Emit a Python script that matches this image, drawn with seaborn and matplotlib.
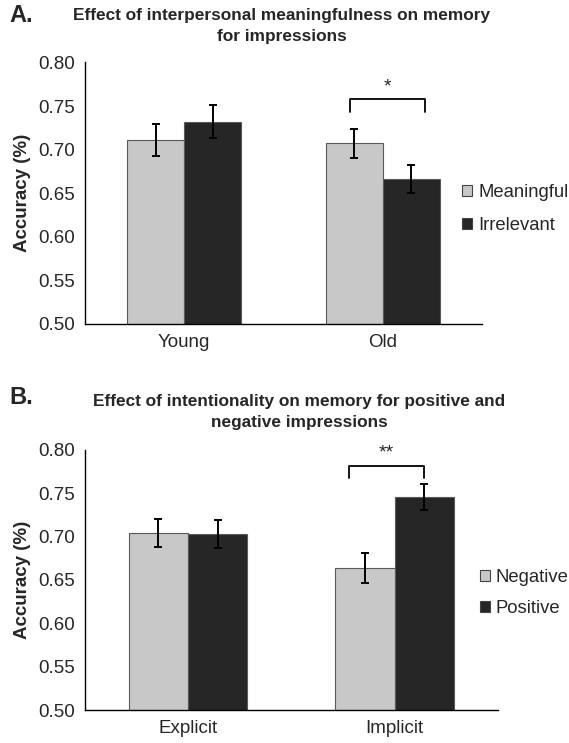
import matplotlib
matplotlib.use("Agg")
import matplotlib.pyplot as plt
import seaborn as sns
import pandas as pd
import numpy as np

# Panel A data
groups_a = ["Young", "Old"]
conds_a = ["Meaningful", "Irrelevant"]
meaningful_a = [0.711, 0.707]
irrelevant_a = [0.732, 0.666]
err_meaningful_a = [0.018, 0.017]
err_irrelevant_a = [0.019, 0.016]

# Panel B data
groups_b = ["Explicit", "Implicit"]
conds_b = ["Negative", "Positive"]
negative_b = [0.704, 0.664]
positive_b = [0.703, 0.746]
err_negative_b = [0.016, 0.017]
err_positive_b = [0.016, 0.015]

yticks = [0.50, 0.55, 0.60, 0.65, 0.70, 0.75, 0.80]
colors = ["#c8c8c8", "#262626"]

sns.set_style("white")
plt.rcParams['font.family'] = ['Liberation Sans', 'DejaVu Sans']


def make_frame(groups, conds, first, second):
    return pd.DataFrame({
        "group": groups * 2,
        "cond": [conds[0]] * len(groups) + [conds[1]] * len(groups),
        "acc": list(first) + list(second),
    })


def draw_panel(ax, df, groups, conds, errs, sig, sig_y, br_frac, legend_xy, lspace):
    sns.barplot(data=df, x="group", y="acc", hue="cond", order=groups,
                hue_order=conds, palette=colors, width=0.575, errorbar=None,
                edgecolor="#5a5a5a", linewidth=0.8, ax=ax, legend=False)
    # error bars from bar positions
    for patch, e in zip(ax.patches, errs):
        xc = patch.get_x() + patch.get_width() / 2
        ax.errorbar(xc, patch.get_height(), yerr=e, fmt="none", ecolor="black",
                    elinewidth=1.4, capsize=2.7, capthick=1.4)
    ax.set_ylim(0.50, 0.80)
    ax.set_xlim(-0.5, 1.5)
    ax.set_yticks(yticks)
    ax.set_yticklabels([f"{t:.2f}" for t in yticks], fontsize=13.5)
    ax.set_xticks([-0.5, 0.5, 1.5])
    ax.set_xticklabels([])
    ax.set_xticks([0, 1], minor=True)
    ax.set_xticklabels(groups, minor=True, fontsize=13.5)
    ax.tick_params(axis="x", which="minor", length=0, pad=7)
    ax.tick_params(axis="x", which="major", direction="out", length=4, width=1, color="black")
    ax.tick_params(axis="y", direction="out", length=5, width=1, color="black", pad=2)
    ax.set_xlabel("")
    ax.set_ylabel("Accuracy (%)", fontsize=13.5, fontweight="bold", labelpad=5)
    for s in ["top", "right"]:
        ax.spines[s].set_visible(False)
    for s in ["left", "bottom"]:
        ax.spines[s].set_color("black")
        ax.spines[s].set_linewidth(1)

    # significance bracket over second group
    p1, p3 = ax.patches[1], ax.patches[3]
    x1 = p1.get_x() + br_frac[0] * p1.get_width()
    x2 = p3.get_x() + br_frac[1] * p3.get_width()
    ax.plot([x1, x1, x2, x2], [sig_y - 0.014, sig_y, sig_y, sig_y - 0.014],
            color="black", lw=1.3, clip_on=False)
    ax.text((x1 + x2) / 2, sig_y + 0.005, sig, ha="center", va="bottom",
            fontsize=14, clip_on=False)

    handles = [plt.Rectangle((0, 0), 1, 1, facecolor=c, edgecolor="#444444", lw=0.8)
               for c in colors]
    ax.legend(handles, conds, loc="center left", bbox_to_anchor=legend_xy,
              frameon=False, fontsize=13.3, handlelength=0.55, handleheight=0.55,
              handletextpad=0.32, labelspacing=lspace, borderaxespad=0, borderpad=0)


def panel_heading(fig, label, title, label_y, title_x, title_y):
    fig.text(0.017, label_y, label, fontsize=17, fontweight="bold",
             ha="left", va="center")
    fig.text(title_x, title_y, title, fontsize=12.4, fontweight="bold",
             ha="center", va="center", linespacing=1.5)


fig = plt.figure(figsize=(5.69, 7.43), dpi=100)
ax_a = fig.add_axes([0.149, 0.564, 0.698, 0.352])
ax_b = fig.add_axes([0.149, 0.0444, 0.726, 0.350])

df_a = make_frame(groups_a, conds_a, meaningful_a, irrelevant_a)
df_b = make_frame(groups_b, conds_b, negative_b, positive_b)

# patches ordered by hue then group
errs_a = err_meaningful_a + err_irrelevant_a
errs_b = err_negative_b + err_positive_b

draw_panel(ax_a, df_a, groups_a, conds_a, errs_a, "*", 0.7575,
           (0.42, 0.74), (0.95, 0.44), 0.85)
draw_panel(ax_b, df_b, groups_b, conds_b, errs_b, "**", 0.7815,
           (0.23, 0.49), (0.956, 0.45), 0.75)

panel_heading(fig, "A.", "Effect of interpersonal meaningfulness on memory\nfor impressions",
              0.979, 0.495, 0.965)
panel_heading(fig, "B.", "Effect of intentionality on memory for positive and\nnegative impressions",
              0.465, 0.526, 0.446)

fig.savefig("out.png", dpi=100)
plt.close(fig)
